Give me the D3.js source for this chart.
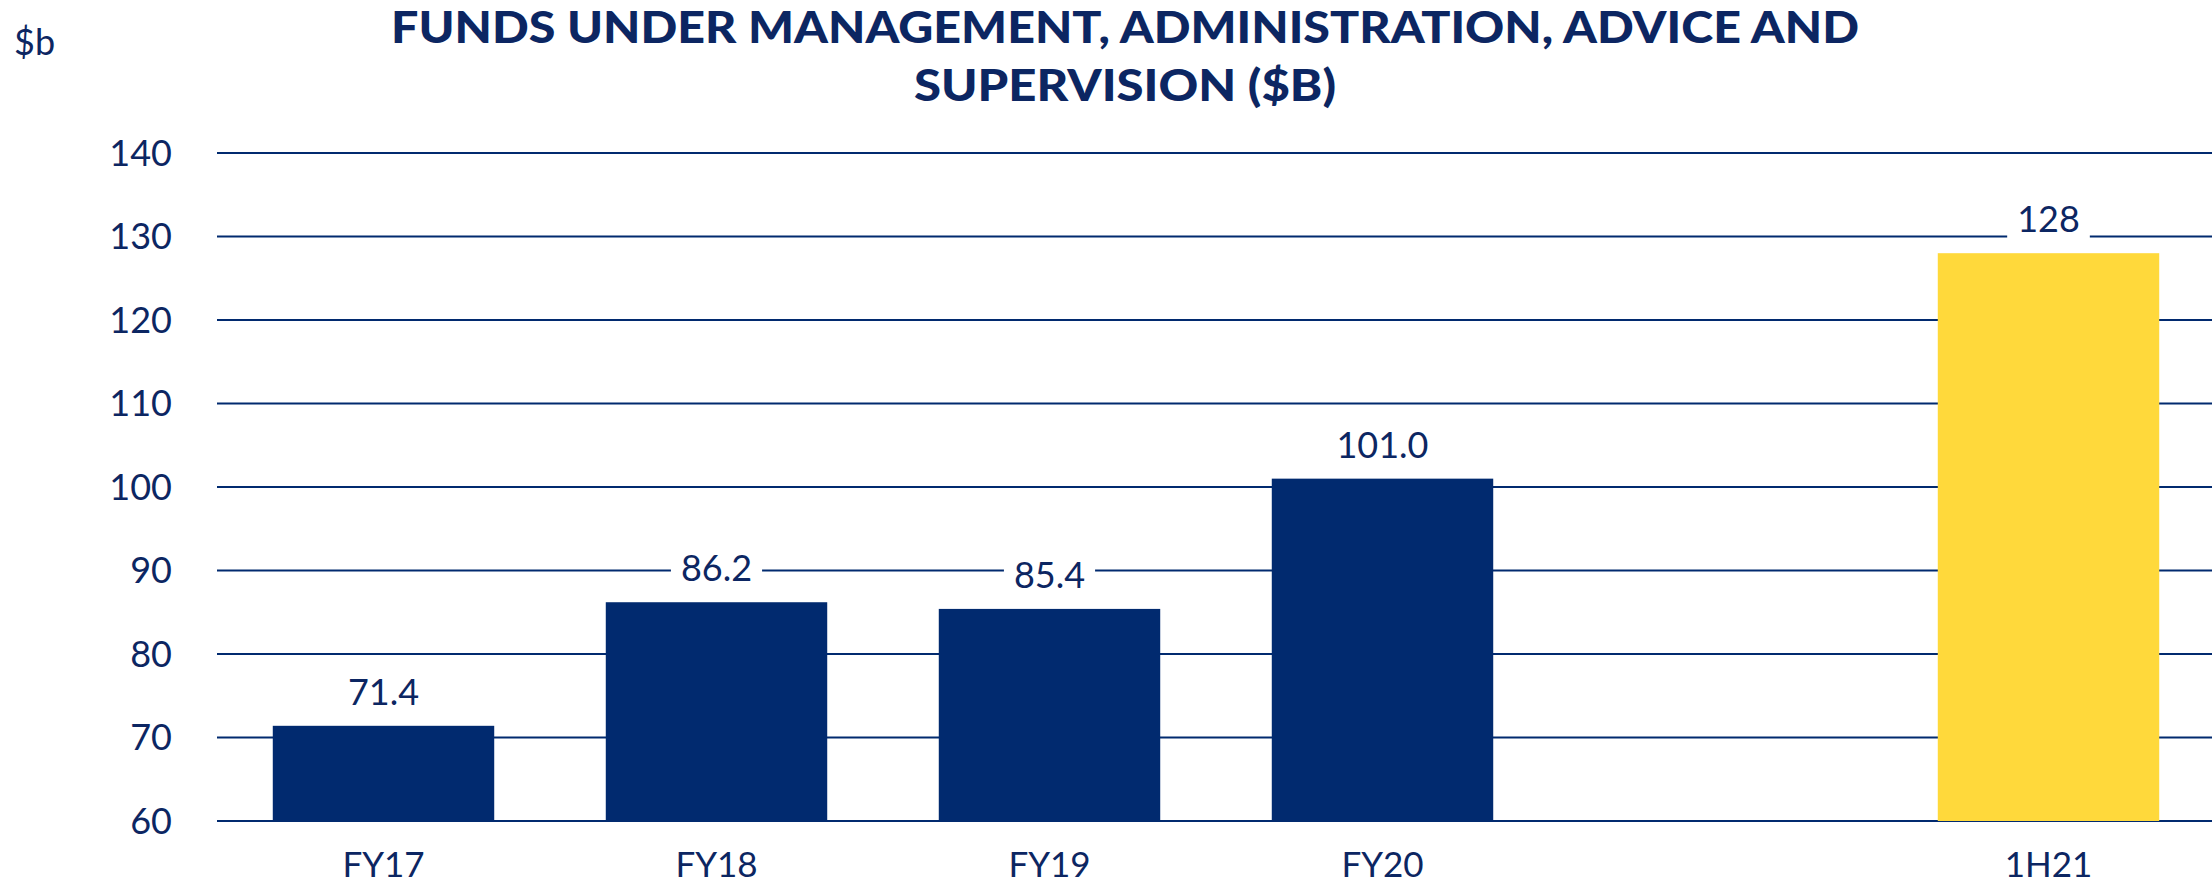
<!DOCTYPE html>
<html>
<head>
<meta charset="utf-8">
<script src="https://cdn.jsdelivr.net/npm/d3@7"></script>
<style>
  html, body { margin: 0; padding: 0; background: #ffffff; }
  svg { display: block; }
</style>
</head>
<body>
<svg id="chart" width="2212" height="883"></svg>
<script>
// ---- data ----
const categories = ["FY17", "FY18", "FY19", "FY20", "", "1H21"];
const values = [71.4, 86.2, 85.4, 101.0, null, 128];
const valueLabels = ["71.4", "86.2", "85.4", "101.0", "", "128"];
const highlight = [false, false, false, false, false, true];
const yTicks = [60, 70, 80, 90, 100, 110, 120, 130, 140];
const titleLines = ["FUNDS UNDER MANAGEMENT, ADMINISTRATION, ADVICE AND", "SUPERVISION ($B)"];
const unitLabel = "$b";

// ---- style ----
const navy = "#012a6f";
const textNavy = "#0c2662";
const yellow = "#ffd93b";
const font = "Lato, 'Open Sans', sans-serif";

const svg = d3.select("#chart");
const W = 2212, H = 883;
const plotLeft = 217, plotRight = 2215, plotTop = 153, plotBottom = 821;

const x = d3.scaleBand()
  .domain(categories.map((c, i) => i))
  .range([plotLeft, plotRight])
  .paddingInner(0.335)
  .paddingOuter(0.1675);

const y = d3.scaleLinear().domain([60, 140]).range([plotBottom, plotTop]);

// gridlines
svg.append("g").selectAll("line")
  .data(yTicks).join("line")
  .attr("x1", plotLeft).attr("x2", W)
  .attr("y1", d => y(d)).attr("y2", d => y(d))
  .attr("stroke", navy).attr("stroke-width", 2);

// y tick labels
svg.append("g").selectAll("text")
  .data(yTicks).join("text")
  .attr("x", 172).attr("y", d => y(d))
  .attr("dy", "0.36em")
  .attr("text-anchor", "end")
  .attr("font-family", font).attr("font-size", 36)
  .attr("fill", textNavy)
  .text(d => d);

// unit label
svg.append("text")
  .attr("x", 14).attr("y", 55)
  .attr("font-family", font).attr("font-size", 36)
  .attr("fill", textNavy)
  .text(unitLabel);

// title
const titleY = [43, 101];
const titleW = [1468, 422];
titleLines.forEach((t, i) => {
  svg.append("text")
    .attr("x", 1125).attr("y", titleY[i])
    .attr("text-anchor", "middle")
    .attr("font-family", font).attr("font-weight", 900)
    .attr("font-size", 44)
    .attr("fill", textNavy)
    .attr("textLength", titleW[i])
    .attr("lengthAdjust", "spacingAndGlyphs")
    .text(t);
});

const idx = categories.map((c, i) => i).filter(i => values[i] !== null);

// bars
svg.append("g").selectAll("rect")
  .data(idx).join("rect")
  .attr("x", i => x(i))
  .attr("width", x.bandwidth())
  .attr("y", i => y(values[i]))
  .attr("height", i => y(60) - y(values[i]))
  .attr("fill", i => highlight[i] ? yellow : navy);

// value labels with white background
const lg = svg.append("g");
idx.forEach(i => {
  const cx = x(i) + x.bandwidth() / 2;
  const by = y(values[i]) - 21;
  const g = lg.append("g");
  const rect = g.append("rect").attr("fill", "#ffffff");
  const t = g.append("text")
    .attr("x", cx).attr("y", by)
    .attr("text-anchor", "middle")
    .attr("font-family", font).attr("font-size", 36)
    .attr("fill", textNavy)
    .text(valueLabels[i]);
  const bb = t.node().getBBox();
  rect.attr("x", bb.x - 10).attr("y", bb.y).attr("width", bb.width + 20).attr("height", bb.height);
});

// x labels
svg.append("g").selectAll("text")
  .data(idx).join("text")
  .attr("x", i => x(i) + x.bandwidth() / 2)
  .attr("y", 877)
  .attr("text-anchor", "middle")
  .attr("font-family", font).attr("font-size", 35)
  .attr("fill", textNavy)
  .text(i => categories[i]);
</script>
</body>
</html>
